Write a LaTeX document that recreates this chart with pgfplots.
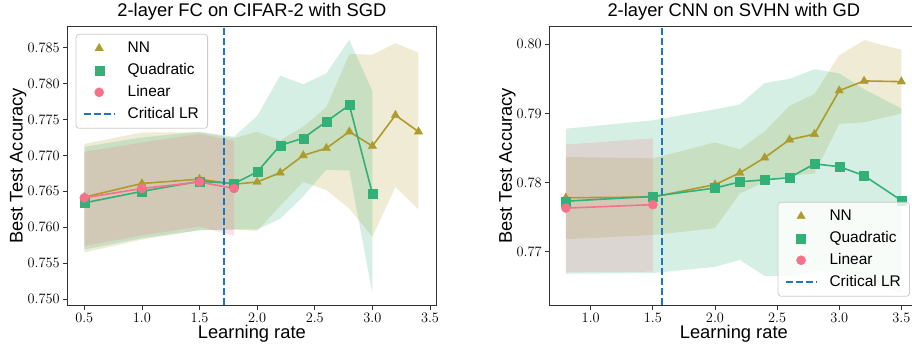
\documentclass[border=0pt]{standalone}
\usepackage{fontspec}
\setmainfont{Liberation Sans}
\usepackage{pgfplots}
\pgfplotsset{compat=1.18}

\definecolor{nncol}{RGB}{173,155,45}
\definecolor{quadcol}{RGB}{50,176,120}
\definecolor{lincol}{RGB}{247,113,137}
\definecolor{critcol}{RGB}{28,118,195}

\pgfplotsset{
  mystyle/.style={
    scale only axis,
    height=278.3bp,
    width=368.3bp,
    axis line style={draw=black!80, line width=1bp},
    tick align=outside, xtick pos=bottom, ytick pos=left,
    major tick length=4.5bp,
    tick style={black!80, line width=0.8bp},
    tick label style={font=\fontsize{14}{16}\selectfont},
    label style={font=\fontsize{18.4}{22}\selectfont},
    title style={font=\fontsize{18.4}{22}\selectfont, at={(axis description cs:0.5,1)}, anchor=base, yshift=4bp},
    xlabel style={at={(axis description cs:0.5,0)}, anchor=base, yshift=-33.3bp},
    scaled ticks=false,
    xticklabel style={/pgf/number format/.cd, fixed, fixed zerofill, precision=1},
    legend cell align=left,
    legend style={
      font=\fontsize{15.5}{18}\selectfont,
      draw=black!20, rounded corners=3bp, fill=white, fill opacity=0.8, text opacity=1, draw opacity=1,
      inner xsep=6.7bp, inner ysep=5bp, row sep=4bp, line width=0.8bp,
      nodes={inner sep=2bp, text height=11bp, text depth=3bp},
    },
  },
  bandstyle/.style={draw=none, fill=#1, fill opacity=0.2, forget plot},
  linestyle/.style={color=#1, line width=1.6bp, mark options={fill=#1, draw=#1, line width=0.3bp, solid}, forget plot},
}

\newcommand{\mylegend}{%
  \addlegendimage{legend image code/.code={\path[draw=none, fill=none] (0bp,-4bp) rectangle (42bp,4bp);
    \begin{scope}[shift={(15.5bp,0)}, sharp corners, fill opacity=1, draw opacity=1, draw=nncol, fill=nncol, mark size=4.9bp, line width=0.3bp]\pgfuseplotmark{triangle*}\end{scope}}}
  \addlegendentry{NN}
  \addlegendimage{legend image code/.code={\path[draw=none, fill=none] (0bp,-4bp) rectangle (42bp,4bp);
    \begin{scope}[shift={(15.5bp,0)}, sharp corners, fill opacity=1, draw opacity=1, draw=quadcol, fill=quadcol, mark size=4.5bp, line width=0.3bp]\pgfuseplotmark{square*}\end{scope}}}
  \addlegendentry{Quadratic}
  \addlegendimage{legend image code/.code={\path[draw=none, fill=none] (0bp,-4bp) rectangle (42bp,4bp);
    \begin{scope}[shift={(15.5bp,0)}, sharp corners, fill opacity=1, draw opacity=1, draw=lincol, fill=lincol, mark size=4.6bp, line width=0.3bp]\pgfuseplotmark{*}\end{scope}}}
  \addlegendentry{Linear}
  \addlegendimage{legend image code/.code={\path[draw=none, fill=none] (0bp,-4bp) rectangle (42bp,4bp);
    \draw[sharp corners, draw opacity=1, critcol, line width=1.8bp, dash pattern=on 7bp off 3bp] (0bp,0) -- (31bp,0);}}
  \addlegendentry{Critical LR}
}

\begin{document}
\begin{tikzpicture}
\useasboundingbox (0,0) rectangle (912bp,347bp);
\clip (0,0) rectangle (912bp,347bp);

% ---------------- Left panel ----------------
\begin{axis}[mystyle,
  at={(67.7bp,42bp)}, anchor=south west,
  xmin=0.356, xmax=3.552, ymin=0.7492, ymax=0.7879,
  xtick={0.5,1.0,1.5,2.0,2.5,3.0,3.5},
  ytick={0.750,0.755,0.760,0.765,0.770,0.775,0.780,0.785},
  yticklabel style={/pgf/number format/.cd, fixed, fixed zerofill, precision=3},
  title={2-layer FC on CIFAR-2 with SGD},
  xlabel={Learning rate}, ylabel={Best Test Accuracy},
  ylabel style={at={(axis description cs:-0.1223,0.5)}, anchor=base},
  legend style={at={(axis description cs:0.0217,0.974)}, anchor=north west},
]
% bands
\addplot[bandstyle=nncol] coordinates {
 (0.5,0.7716) (1.0,0.7732) (1.5,0.7732) (1.8,0.7724) (2.0,0.7733) (2.2,0.7721) (2.4,0.7740) (2.6,0.7767) (2.8,0.7841) (3.0,0.7840) (3.2,0.7856) (3.4,0.7843)
 (3.4,0.7625) (3.2,0.7656) (3.0,0.7587) (2.8,0.7626) (2.6,0.7652) (2.4,0.7663) (2.2,0.7630) (2.0,0.7595) (1.8,0.7597) (1.5,0.7596) (1.0,0.7583) (0.5,0.7565)
} -- cycle;
\addplot[bandstyle=quadcol] coordinates {
 (0.5,0.7712) (1.0,0.7725) (1.5,0.7733) (1.8,0.7726) (2.0,0.7755) (2.2,0.7811) (2.4,0.7799) (2.6,0.7814) (2.8,0.7861) (3.0,0.7789)
 (3.0,0.7508) (2.8,0.7679) (2.6,0.7680) (2.4,0.7643) (2.2,0.7612) (2.0,0.7597) (1.8,0.7597) (1.5,0.7596) (1.0,0.7585) (0.5,0.7569)
} -- cycle;
\addplot[bandstyle=lincol] coordinates {
 (0.5,0.7705) (1.0,0.7718) (1.5,0.7730) (1.8,0.7720)
 (1.8,0.7588) (1.5,0.7601) (1.0,0.7589) (0.5,0.7574)
} -- cycle;
% lines
\addplot[linestyle=nncol, mark=triangle*, mark size=4.9bp] coordinates {
 (0.5,0.7642) (1.0,0.7661) (1.5,0.7667) (1.8,0.7660) (2.0,0.7663) (2.2,0.7676) (2.4,0.7700) (2.6,0.7710) (2.8,0.7733) (3.0,0.7713) (3.2,0.7756) (3.4,0.7733)};
\addplot[linestyle=quadcol, mark=square*, mark size=4.5bp] coordinates {
 (0.5,0.7634) (1.0,0.7650) (1.5,0.7664) (1.8,0.7661) (2.0,0.7677) (2.2,0.7714) (2.4,0.7724) (2.6,0.7747) (2.8,0.7770) (3.0,0.7647)};
\addplot[linestyle=lincol, mark=*, mark size=4.6bp] coordinates {
 (0.5,0.7641) (1.0,0.7654) (1.5,0.7663) (1.8,0.7654)};
\addplot[critcol, line width=1.8bp, dash pattern=on 7bp off 3bp, forget plot] coordinates {(1.713,0.7492) (1.713,0.7879)};
\mylegend
\end{axis}

% ---------------- Right panel ----------------
\begin{axis}[mystyle,
  at={(549.7bp,42bp)}, anchor=south west,
  xmin=0.67, xmax=3.634, ymin=0.76228, ymax=0.80255,
  xtick={1.0,1.5,2.0,2.5,3.0,3.5},
  ytick={0.77,0.78,0.79,0.80},
  yticklabel style={/pgf/number format/.cd, fixed, fixed zerofill, precision=2},
  title={2-layer CNN on SVHN with GD},
  xlabel={Learning rate}, ylabel={Best Test Accuracy},
  ylabel style={at={(axis description cs:-0.1024,0.5)}, anchor=base},
  legend style={at={(axis description cs:0.978,0.030)}, anchor=south east},
]
\addplot[bandstyle=nncol] coordinates {
 (0.8,0.7837) (1.5,0.7835) (2.0,0.7858) (2.2,0.7848) (2.4,0.7874) (2.6,0.7911) (2.8,0.7928) (3.0,0.7984) (3.2,0.8006) (3.5,0.7992)
 (3.5,0.7900) (3.2,0.7887) (3.0,0.7885) (2.8,0.7813) (2.6,0.7810) (2.4,0.7801) (2.2,0.7784) (2.0,0.7734) (1.5,0.7724) (0.8,0.7718)
} -- cycle;
\addplot[bandstyle=quadcol] coordinates {
 (0.8,0.7878) (1.5,0.7890) (2.0,0.7906) (2.2,0.7913) (2.4,0.7944) (2.6,0.7950) (2.8,0.7964) (3.0,0.7958) (3.2,0.7935) (3.5,0.7907)
 (3.5,0.7640) (3.2,0.7660) (3.0,0.7670) (2.8,0.7672) (2.6,0.7665) (2.4,0.7665) (2.2,0.7688) (2.0,0.7678) (1.5,0.7669) (0.8,0.7668)
} -- cycle;
\addplot[bandstyle=lincol] coordinates {
 (0.8,0.7855) (1.5,0.7864) (1.5,0.7671) (0.8,0.7670)
} -- cycle;
\addplot[linestyle=nncol, mark=triangle*, mark size=4.9bp] coordinates {
 (0.8,0.7778) (1.5,0.7779) (2.0,0.7797) (2.2,0.7814) (2.4,0.7836) (2.6,0.7862) (2.8,0.7870) (3.0,0.7933) (3.2,0.7947) (3.5,0.7946)};
\addplot[linestyle=quadcol, mark=square*, mark size=4.5bp] coordinates {
 (0.8,0.7773) (1.5,0.7780) (2.0,0.7792) (2.2,0.7801) (2.4,0.7804) (2.6,0.7807) (2.8,0.7827) (3.0,0.7823) (3.2,0.7810) (3.5,0.7774)};
\addplot[linestyle=lincol, mark=*, mark size=4.6bp] coordinates {
 (0.8,0.7763) (1.5,0.7768)};
\addplot[critcol, line width=1.8bp, dash pattern=on 7bp off 3bp, forget plot] coordinates {(1.574,0.76228) (1.574,0.80255)};
\mylegend
\end{axis}
\end{tikzpicture}
\end{document}
